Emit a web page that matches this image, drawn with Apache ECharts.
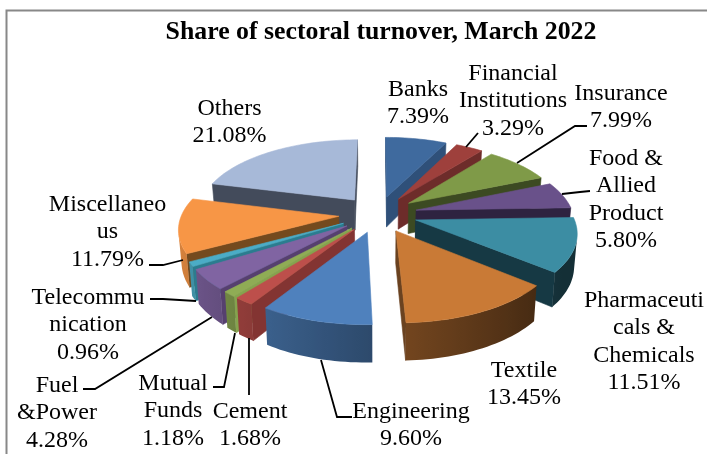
<!DOCTYPE html>
<html>
<head>
<meta charset="utf-8">
<script src="https://cdn.jsdelivr.net/npm/echarts@6/dist/echarts.min.js"></script>
<style>html,body{margin:0;padding:0;background:#fff}#c{width:707px;height:454px}</style>
</head>
<body>
<div id="c"></div>
<script>
// Sector names (with the line breaks used in their labels) and turnover shares, clockwise from 12 o'clock.
const categories = ['Banks', 'Financial\nInstitutions', 'Insurance', 'Food &\nAllied\nProduct',
  'Pharmaceuti\ncals &\nChemicals', 'Textile', 'Engineering', 'Cement', 'Mutual\nFunds', 'Fuel\n&Power',
  'Telecommu\nnication', 'Miscellaneo\nus', 'Others'];
const shares = [7.39, 3.29, 7.99, 5.80, 11.51, 13.45, 9.60, 1.68, 1.18, 4.28, 0.96, 11.79, 21.08];

// Face colours per slice: top surface and cut (radial) walls.
const topColors = ['#3f6a9e', '#9e403c', '#7f9a48', '#69518a', '#3c8da3', '#c97a36', '#4f81bd',
  '#bd4f4b', '#8fac55', '#8064a2', '#4bacc6', '#f79646', '#a7b9d8'];
const sideColors = ['#2f5079', '#6d2c2a', '#3c4a22', '#2e2340', '#163944', '#6a4220', '#395f8e',
  '#833432', '#85a34d', '#56406f', '#2b7c8f', '#744a1e', '#434b5b'];

// Label anchor (centre x, first-line y) and leader lines.
const labelAnchors = [[418, 89.5], [513, 73.5], [621, 93.5], [626, 158.5], [644, 300.5], [524, 370.5], [411, 411.5],
  [250, 411.5], [173, 383.5], [57, 385.5], [88, 297.5], [107.5, 204.5], [229.5, 108.5]];
const leaders = [
  [[466, 147], [478, 133]],
  [[517, 163], [575, 126], [587, 126]],
  [[562, 194], [580, 192], [590, 191]],
  [[321, 360], [337, 417], [352, 417]],
  [[249, 338], [249, 395]],
  [[235, 333], [224, 387], [213, 387]],
  [[212, 317], [95, 389], [83, 389]],
  [[196, 301], [163, 299], [150, 299]],
  [[183, 260], [163, 265], [149, 265]]
];

// Projection of the tilted, exploded disc.
const view = { cx: 378, cy: 214, radius: 157, tilt: 0.464, persp: 0.147, explode: 0.25, depth: 31, taper: 0.0005 };
const LINE = 27.4;
const FONT = '"Liberation Serif","Times New Roman",serif';

function project(u, v, h) {
  const s = 1 / (1 - view.persp * v);
  const d = h || 0;
  return [view.cx + view.radius * u * s * (1 - view.taper * d),
          view.cy + view.radius * view.tilt * v * s + d * s];
}
function onDisc(theta, r, off) {
  return [off[0] + r * Math.sin(theta), off[1] - r * Math.cos(theta)];
}
function shade(hex, f) {
  const n = parseInt(hex.slice(1), 16);
  const c = [n >> 16, (n >> 8) & 255, n & 255].map(x => Math.round(x * f));
  return 'rgb(' + c.join(',') + ')';
}
// Brightness of the curved wall at a given angle: lit from the left.
function rimLight(theta) {
  return Math.max(0.33, 0.58 - 0.3 * Math.sin(theta));
}
// True when a wall, wound as its callers give it, faces the viewer (y grows downward on screen).
function facesViewer(p) {
  let a = 0;
  for (let i = 0; i < p.length; i++) {
    const q = p[(i + 1) % p.length];
    a += p[i][0] * q[1] - q[0] * p[i][1];
  }
  return a < 0;
}
function poly(points, fill, z) {
  return { type: 'polygon', shape: { points }, z2: z,
    style: { fill, stroke: fill, lineWidth: 0.6 } };
}

// Angular extent of each slice, derived from the shares.
const total = shares.reduce((a, b) => a + b, 0);
let acc = 0;
const slices = shares.map((v, i) => {
  const a0 = acc / total * 2 * Math.PI;
  acc += v;
  const a1 = acc / total * 2 * Math.PI;
  return { i, a0, a1, mid: (a0 + a1) / 2 };
});
// Painted from the back of the disc to the front.
const rank = {};
slices.slice().sort((p, q) => -Math.cos(p.mid) + Math.cos(q.mid)).forEach((s, k) => { rank[s.i] = k; });

function renderSlice(params, api) {
  const idx = api.value(0);
  const s = slices[idx];
  const off = [view.explode * Math.sin(s.mid), -view.explode * Math.cos(s.mid)];
  const steps = Math.max(4, Math.ceil((s.a1 - s.a0) / 0.03));
  const rim = [];
  for (let k = 0; k <= steps; k++) rim.push(s.a0 + (s.a1 - s.a0) * k / steps);
  const base = (rank[idx] + 1) * 1000;
  const children = [];
  const apexT = project(off[0], off[1], 0), apexB = project(off[0], off[1], view.depth);
  const wall = (t) => {
    const d = onDisc(t, 1, off);
    return [project(d[0], d[1], 0), project(d[0], d[1], view.depth)];
  };
  // Radial cut faces.
  const w0 = wall(s.a0), w1 = wall(s.a1);
  const q0 = [apexT, w0[0], w0[1], apexB], q1 = [w1[0], apexT, apexB, w1[1]];
  if (facesViewer(q0)) children.push(poly(q0, sideColors[idx], base + 1));
  if (facesViewer(q1)) children.push(poly(q1, sideColors[idx], base + 1));
  // Curved outer wall: the viewer-facing run of rim segments as one shaded polygon.
  const upper = [], lower = [], stops = [];
  let first = null, last = null;
  for (let k = 0; k < steps; k++) {
    const a = wall(rim[k]), b = wall(rim[k + 1]);
    if (!facesViewer([a[0], b[0], b[1], a[1]])) continue;
    if (first === null) { first = a[0][0]; upper.push(a[0]); lower.push(a[1]); stops.push([a[0][0], rim[k]]); }
    upper.push(b[0]); lower.push(b[1]); stops.push([b[0][0], rim[k + 1]]);
    last = b[0][0];
  }
  if (upper.length > 1 && Math.abs(last - first) > 0.01) {
    const fill = new echarts.graphic.LinearGradient(first, 0, last, 0,
      stops.map(p => ({
        offset: Math.min(1, Math.max(0, (p[0] - first) / (last - first))),
        color: shade(topColors[idx], rimLight(p[1]))
      })), true);
    children.push({ type: 'polygon', z2: base + 2, shape: { points: upper.concat(lower.reverse()) },
      style: { fill } });
  }
  // Top surface.
  const top = [apexT].concat(rim.map(t => {
    const d = onDisc(t, 1, off);
    return project(d[0], d[1], 0);
  }));
  children.push(poly(top, topColors[idx], base + 3));
  return { type: 'group', children };
}

const labelGraphics = categories.map((name, i) => ({
  type: 'text', x: labelAnchors[i][0], y: labelAnchors[i][1] - LINE / 2, z: 20,
  style: { text: name + '\n' + shares[i].toFixed(2) + '%', font: '24px ' + FONT, fill: '#000',
    align: 'center', verticalAlign: 'top', lineHeight: LINE }
}));
const leaderGraphics = leaders.map(points => ({
  type: 'polyline', z: 15, shape: { points }, style: { stroke: '#000', lineWidth: 1.8, fill: null }
}));

const chart = echarts.init(document.getElementById('c'), null, { renderer: 'canvas' });
chart.setOption({
  animation: false,
  backgroundColor: '#fff',
  title: {
    text: 'Share of sectoral turnover, March 2022', left: 376, top: 14, textAlign: 'center',
    textStyle: { fontFamily: FONT, fontWeight: 'bold', fontSize: 25.8, color: '#000' }
  },
  series: [{
    type: 'custom',
    coordinateSystem: 'none',
    silent: true,
    data: shares.map((v, i) => [i, v]),
    renderItem: renderSlice
  }],
  graphic: [
    { type: 'rect', z: 1, shape: { x: 6.5, y: 10.5, width: 720, height: 480 },
      style: { fill: 'none', stroke: '#888', lineWidth: 2 } }
  ].concat(leaderGraphics, labelGraphics)
});
</script>
</body>
</html>
